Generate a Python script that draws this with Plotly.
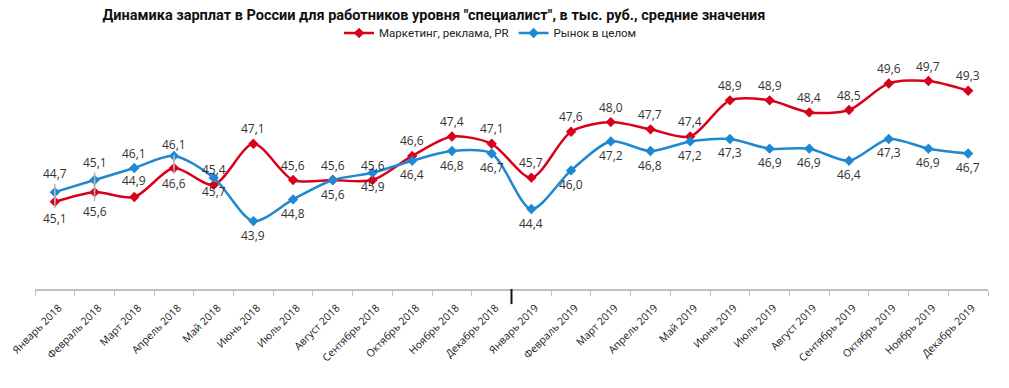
import plotly.graph_objects as go

months = ["Январь 2018", "Февраль 2018", "Март 2018", "Апрель 2018", "Май 2018", "Июнь 2018",
          "Июль 2018", "Август 2018", "Сентябрь 2018", "Октябрь 2018", "Ноябрь 2018", "Декабрь 2018",
          "Январь 2019", "Февраль 2019", "Март 2019", "Апрель 2019", "Май 2019", "Июнь 2019",
          "Июль 2019", "Август 2019", "Сентябрь 2019", "Октябрь 2019", "Ноябрь 2019", "Декабрь 2019"]
marketing = [44.7, 45.1, 44.9, 46.1, 45.4, 47.1, 45.6, 45.6, 45.6, 46.6, 47.4, 47.1,
             45.7, 47.6, 48.0, 47.7, 47.4, 48.9, 48.9, 48.4, 48.5, 49.6, 49.7, 49.3]
market = [45.1, 45.6, 46.1, 46.6, 45.7, 43.9, 44.8, 45.6, 45.9, 46.4, 46.8, 46.7,
          44.4, 46.0, 47.2, 46.8, 47.2, 47.3, 46.9, 46.9, 46.4, 47.3, 46.9, 46.7]

RED = "#D9001B"
BLUE = "#1E88D0"
LEADER = "#b5b5b5"

# label pixel offsets (negative = above) and leader-line flags
red_off = [-28, -30, -16, -23] + [-15] * 20
blue_off = [26, 31, -14, 28] + [14] * 20
leader = [True, True, False, True] + [False] * 20

fig = go.Figure()
fig.add_trace(go.Scatter(
    x=months, y=marketing, name="Маркетинг, реклама, PR", mode="lines+markers",
    line=dict(color=RED, width=2.5, shape="spline", smoothing=0.8),
    marker=dict(symbol="diamond", size=8, color=RED)))
fig.add_trace(go.Scatter(
    x=months, y=market, name="Рынок в целом", mode="lines+markers",
    line=dict(color=BLUE, width=2.5, shape="spline", smoothing=0.8),
    marker=dict(symbol="diamond", size=8, color=BLUE)))

lab_font = dict(family="Open Sans", size=12, color="#333333")
annotations = []
for i, m in enumerate(months):
    for vals, offs in ((marketing, red_off), (market, blue_off)):
        annotations.append(dict(
            x=m, y=vals[i], xref="x", yref="y",
            text=f"{vals[i]:.1f}".replace(".", ","),
            showarrow=True, ax=0, ay=offs[i], axref="pixel", ayref="pixel",
            arrowhead=0, arrowwidth=1.5, standoff=0, startstandoff=0,
            arrowcolor=LEADER if leader[i] else "rgba(0,0,0,0)",
            font=lab_font))

fig.update_layout(
    width=993, height=372,
    margin=dict(l=27, r=13, t=52, b=91, autoexpand=False),
    paper_bgcolor="white", plot_bgcolor="white",
    title=dict(text="Динамика зарплат в России для работников уровня \"специалист\", в тыс. руб., средние значения",
               x=0.429, xanchor="center", xref="container", y=0.9825, yanchor="middle",
               font=dict(family="Roboto", size=14.5, color="#111111", weight="bold")),
    legend=dict(orientation="h", x=0.478, xanchor="center", y=1.118, yanchor="middle",
                font=dict(family="Roboto", size=11.5, color="#222222"),
                itemwidth=30, bgcolor="rgba(0,0,0,0)"),
    showlegend=True,
    annotations=annotations,
    xaxis=dict(type="category", range=[-0.5, 23.5], showline=True, linecolor="#bfbfbf", linewidth=1.5,
               ticks="outside", ticklen=5, tickcolor="#bfbfbf", tickson="boundaries",
               tickangle=-45, showgrid=False, zeroline=False, automargin=False,
               ticklabelstandoff=7, ticklabelshift=4,
               tickfont=dict(family="Open Sans", size=10.5, color="#222222")),
    yaxis=dict(range=[41.09, 50.57], visible=False, showgrid=False, automargin=False),
    shapes=[dict(type="line", xref="x", yref="paper", x0=11.5, x1=11.5, y0=0, y1=-0.066,
                 line=dict(color="#111111", width=2))],
)

fig.write_html("out.html")
